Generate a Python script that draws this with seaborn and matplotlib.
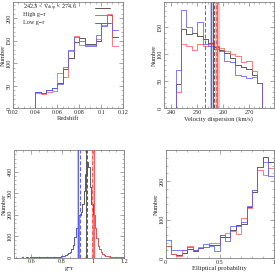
import numpy as np
import pandas as pd
import matplotlib
matplotlib.use("Agg")
import matplotlib.pyplot as plt
import seaborn as sns
from matplotlib.ticker import MultipleLocator, FuncFormatter

# ---- redshift (bins of 0.005 from 0.02 to 0.115) ----
z_edges = np.round(np.arange(0.02, 0.1151, 0.005), 3)
z_all = [0, 0, 0, 0, 36, 34, 40, 44, 56, 86, 111, 148, 155, 142, 142, 150, 189, 208, 157]
z_high = [0, 0, 0, 0, 34, 32, 36, 38, 78, 70, 126, 161, 140, 140, 140, 153, 185, 209, 137]
z_low = [0, 0, 0, 0, 36, 34, 41, 45, 54, 92, 130, 157, 150, 137, 137, 163, 182, 190, 174]

# ---- velocity dispersion (empty first/last bin so the outline drops to zero) ----
vd_edges = np.round(np.linspace(239.5, 277.3, 19), 2)
vd_all = [0, 44, 147, 138, 140, 133, 128, 120, 114, 108, 102, 93, 80, 76, 72, 62, 47, 0]
vd_high = [0, 30, 118, 116, 107, 118, 116, 119, 115, 112, 106, 100, 96, 86, 88, 68, 47, 0]
vd_low = [0, 70, 182, 150, 140, 160, 118, 116, 110, 106, 88, 86, 62, 60, 56, 58, 47, 0]
# mean (solid) / median (dashed) and error band
vd_lines = {"low": (255.4, 253.1, 0.3), "all": (255.9, 256.4, 0.3), "high": (257.8, 257.4, 0.8)}

# ---- g-r (bins of 0.01 from 0.50 to 1.20) ----
gr_edges = np.round(np.arange(0.50, 1.2001, 0.01), 2)
gr_low = [0, 0, 0, 0, 1, 0, 0, 1, 0, 1,
          1, 2, 1, 1, 2, 1, 2, 3, 2, 3,
          1, 2, 2, 1, 2, 3, 3, 4, 5, 6,
          8, 10, 12, 16, 20, 28, 40, 60, 95, 140,
          200, 0, 0, 0, 0, 0, 0, 0, 0, 0,
          0, 0, 0, 0, 0, 0, 0, 0, 0, 0,
          0, 0, 0, 0, 0, 0, 0, 0, 0, 0]
gr_high = [0, 0, 0, 0, 0, 0, 0, 0, 0, 0,
           0, 0, 0, 0, 0, 0, 0, 0, 0, 0,
           0, 0, 0, 0, 0, 0, 0, 0, 0, 0,
           0, 0, 0, 0, 0, 0, 0, 0, 0, 0,
           0, 0, 0, 0, 0, 0, 0, 0, 0, 0,
           200, 140, 90, 55, 38, 26, 19, 14, 10, 8,
           6, 5, 4, 3, 3, 2, 2, 1, 1, 1]
gr_all = [0, 0, 0, 0, 1, 0, 0, 1, 0, 1,
          1, 2, 1, 1, 2, 1, 2, 3, 2, 3,
          1, 2, 2, 1, 2, 3, 3, 4, 5, 6,
          8, 10, 12, 16, 20, 28, 40, 60, 95, 140,
          200, 200, 210, 250, 310, 390, 445, 420, 330, 250,
          200, 140, 90, 55, 38, 26, 19, 14, 10, 8,
          6, 5, 4, 3, 3, 2, 2, 1, 1, 1]
gr_lines = {"low": (0.900, 0.918, 0.003), "all": (0.955, 0.958, 0.002), "high": (1.003, 0.996, 0.01)}

# ---- elliptical probability ----
ep_edges = np.linspace(0, 1, 21)
ep_all = [30, 11, 7, 13, 24, 18, 26, 29, 33, 33, 55, 55, 74, 87, 89, 132, 171, 238, 264, 249]
ep_high = [31, 11, 5, 20, 31, 20, 29, 29, 39, 40, 59, 66, 69, 63, 104, 130, 176, 228, 217, 235]
ep_low = [46, 22, 20, 20, 29, 20, 26, 37, 31, 18, 61, 44, 82, 82, 94, 134, 176, 238, 249, 213]

colors = {"all": "0.35", "high": "#ff5a5a", "low": "#5a5aff"}
band_colors = {"all": "0.82", "high": "#ffbdbd", "low": "#c4c4ff"}

sns.set_style("ticks")
plt.rcParams["font.family"] = ["Liberation Serif", "DejaVu Serif"]
plt.rcParams["mathtext.fontset"] = "custom"
plt.rcParams["mathtext.rm"] = "Liberation Serif"
plt.rcParams["mathtext.it"] = "Liberation Serif:italic"
FS = 4.4


def hist(ax, edges, counts, key):
    edges = [float(e) for e in edges]
    centers = [(a + b) / 2 for a, b in zip(edges[:-1], edges[1:])]
    df = pd.DataFrame({"x": centers, "n": counts})
    sns.histplot(data=df, x="x", weights="n", bins=edges, element="step", fill=False,
                 color=colors[key], alpha=0.8 if key != "all" else 1.0,
                 linewidth=0.7, ax=ax)


def vlines(ax, lines):
    for key, (mean, median, err) in lines.items():
        ax.axvspan(mean - err, mean + err, color=band_colors[key], lw=0, zorder=0.5)
        ax.axvline(mean, color=colors[key], lw=0.7, zorder=3)
        ax.axvline(median, color=colors[key], lw=0.7, ls=(0, (4, 2)), zorder=3)


def style(ax, xlim, ylim, xmaj, xmin, ymaj, ymin, xlabel):
    ax.set_xlim(*xlim)
    ax.set_ylim(*ylim)
    ax.xaxis.set_major_locator(MultipleLocator(xmaj))
    ax.xaxis.set_minor_locator(MultipleLocator(xmin))
    ax.yaxis.set_major_locator(MultipleLocator(ymaj))
    ax.yaxis.set_minor_locator(MultipleLocator(ymin))
    fmt = FuncFormatter(lambda v, p: f"{v:g}")
    ax.xaxis.set_major_formatter(fmt)
    ax.yaxis.set_major_formatter(fmt)
    ax.tick_params(which="both", direction="in", top=True, right=True,
                   colors="0.5", labelcolor="0.15", labelsize=FS, pad=1.2)
    ax.tick_params(which="major", length=2.6, width=0.5)
    ax.tick_params(which="minor", length=1.3, width=0.4)
    ax.tick_params(axis="y", labelrotation=90, pad=0.8)
    for lab in ax.get_yticklabels():
        lab.set_va("center")
    for s in ax.spines.values():
        s.set_color("0.5")
        s.set_linewidth(0.6)
    ax.set_xlabel(xlabel, fontsize=FS + 0.3, color="0.15", labelpad=1.2)
    ax.set_ylabel("Number", fontsize=FS + 0.3, color="0.15", labelpad=0.6)


fig = plt.figure(figsize=(2.75, 2.75), dpi=100)
ax1 = fig.add_axes([0.047, 0.607, 0.402, 0.386])
ax2 = fig.add_axes([0.595, 0.607, 0.400, 0.386])
ax3 = fig.add_axes([0.051, 0.063, 0.400, 0.390])
ax4 = fig.add_axes([0.602, 0.062, 0.393, 0.391])

# black (whole bin) first, the two colour subsamples over it
order = ["all", "high", "low"]

# panel 1: redshift
for key, vals in zip(order, [z_all, z_high, z_low]):
    hist(ax1, z_edges, vals, key)
style(ax1, (0.02, 0.12), (0, 236), 0.02, 0.005, 50, 10, "Redshift")
ax1.text(0.095, 0.943, r"242.3 < V$_{\rm disp}$ < 274.6", transform=ax1.transAxes,
         fontsize=FS, va="center", color="0.15")
ax1.text(0.095, 0.877, "High g\u2212r", transform=ax1.transAxes, fontsize=FS, va="center", color="0.15")
ax1.text(0.095, 0.805, "Low g\u2212r", transform=ax1.transAxes, fontsize=FS, va="center", color="0.15")
for key, yy in [("all", 0.943), ("high", 0.877), ("low", 0.805)]:
    ax1.plot([0.74, 0.88], [yy, yy], transform=ax1.transAxes, color=colors[key], lw=0.7)

# panel 2: velocity dispersion
for key, vals in zip(order, [vd_all, vd_high, vd_low]):
    hist(ax2, vd_edges, vals, key)
vlines(ax2, vd_lines)
style(ax2, (237, 279.5), (0, 197), 10, 2, 50, 10, "Velocity dispersion (km/s)")

# panel 3: g-r
for key, vals in zip(order, [gr_all, gr_high, gr_low]):
    hist(ax3, gr_edges, vals, key)
vlines(ax3, gr_lines)
style(ax3, (0.49, 1.2), (0, 498), 0.2, 0.05, 100, 20, "g\u2212r")

# panel 4: elliptical probability
for key, vals in zip(order, [ep_all, ep_high, ep_low]):
    hist(ax4, ep_edges, vals, key)
style(ax4, (0, 1), (0, 280), 0.5, 0.1, 100, 20, "Elliptical probability")

fig.savefig("out.png", dpi=100)
